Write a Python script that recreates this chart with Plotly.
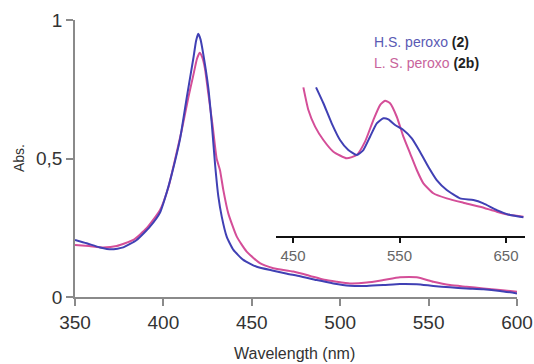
import plotly.graph_objects as go

# Main spectrum data
wl_hs = [350, 356.6, 364.1, 370.7, 377.3, 384.9, 392.4, 398.1, 402.0, 405.0, 409.4, 413.2,
         416.9, 418.5, 419.7, 421.0, 422.6, 425.4, 427.3, 429.2, 431.1, 433.0, 435.8, 439.6,
         445.2, 452.8, 462.2, 470, 477.3, 486.7, 496.1, 505.5, 515, 524.4, 533.8, 543.3,
         552.7, 562.1, 571.5, 581, 590.4, 600]
abs_hs = [0.206, 0.194, 0.179, 0.172, 0.179, 0.206, 0.254, 0.305, 0.38, 0.45, 0.57, 0.72,
          0.86, 0.925, 0.950, 0.93, 0.875, 0.755, 0.63, 0.48, 0.362, 0.29, 0.218, 0.170,
          0.134, 0.109, 0.095, 0.084, 0.075, 0.061, 0.049, 0.041, 0.040, 0.043, 0.047, 0.046,
          0.040, 0.035, 0.031, 0.028, 0.022, 0.013]

wl_ls = [350, 358, 366, 373.6, 383, 390.5, 398.1, 403.0, 406.0, 410.3, 414.1, 416.9, 419,
         420.5, 422, 423.5, 425.4, 427.9, 430.1, 432, 433.9, 436.7, 441.5, 447.1, 454.6,
         462.2, 473.5, 483, 491, 498, 505.5, 515, 524.4, 533.8, 543.3, 552.7, 562.1, 571.5,
         581, 590.4, 600]
abs_ls = [0.188, 0.184, 0.179, 0.184, 0.206, 0.248, 0.314, 0.40, 0.48, 0.60, 0.72, 0.80,
          0.86, 0.882, 0.865, 0.825, 0.735, 0.615, 0.50, 0.458, 0.386, 0.302, 0.218, 0.164,
          0.122, 0.104, 0.092, 0.076, 0.062, 0.055, 0.049, 0.052, 0.061, 0.071, 0.071, 0.055,
          0.043, 0.037, 0.031, 0.025, 0.019]

# Inset (magnified) data, relative units
in_wl_hs = [471.6, 478.5, 486.3, 494.1, 501.9, 509.8, 516.0, 522.3, 528.6, 534.8, 539.5,
            545.8, 553.6, 561.5, 569.2, 577.0, 584.9, 594.3, 606.8, 619.3, 628.7, 641.3,
            653.8, 666.3]
in_v_hs = [0.991, 0.885, 0.751, 0.64, 0.573, 0.54, 0.573, 0.662, 0.751, 0.785, 0.778,
           0.74, 0.707, 0.651, 0.562, 0.462, 0.373, 0.307, 0.251, 0.24, 0.218, 0.173,
           0.14, 0.125]
in_wl_ls = [459.7, 464.4, 470.7, 478.5, 487.9, 500.4, 509.8, 517.6, 525.4, 531.7, 536.4,
            541.1, 547.4, 553.6, 559.9, 566.2, 572.4, 581.7, 594.3, 609.9, 625.6, 641.3,
            653.8, 666.3]
in_v_ls = [0.991, 0.84, 0.729, 0.64, 0.562, 0.518, 0.54, 0.629, 0.773, 0.873, 0.902,
           0.885, 0.795, 0.662, 0.551, 0.44, 0.351, 0.285, 0.251, 0.222, 0.195, 0.162,
           0.14, 0.129]

x_ticks = [350, 400, 450, 500, 550, 600]
y_ticks = [0, 0.5, 1]
y_ticktext = ["0", "0,5", "1"]
inset_ticks = [450, 550, 650]

BLUE = "rgb(64,64,180)"
PINK = "rgb(212,78,152)"

fig = go.Figure()
fig.add_trace(go.Scatter(x=wl_ls, y=abs_ls, mode="lines",
                         line=dict(color=PINK, width=2, shape="spline", smoothing=0.5),
                         xaxis="x", yaxis="y"))
fig.add_trace(go.Scatter(x=wl_hs, y=abs_hs, mode="lines",
                         line=dict(color=BLUE, width=2, shape="spline", smoothing=0.5),
                         xaxis="x", yaxis="y"))
fig.add_trace(go.Scatter(x=in_wl_ls, y=in_v_ls, mode="lines",
                         line=dict(color=PINK, width=2, shape="spline", smoothing=0.5),
                         xaxis="x2", yaxis="y2"))
fig.add_trace(go.Scatter(x=in_wl_hs, y=in_v_hs, mode="lines",
                         line=dict(color=BLUE, width=2, shape="spline", smoothing=0.5),
                         xaxis="x2", yaxis="y2"))

W, H = 534, 364
ml, mr, mt, mb = 75, 8, 20, 67
pw = W - ml - mr
ph = H - mt - mb

def px(x):
    return (x - ml) / pw

def py(y):
    return (H - mb - y) / ph

fig.update_layout(
    width=W, height=H,
    margin=dict(l=ml, r=mr, t=mt, b=mb, autoexpand=False),
    paper_bgcolor="white", plot_bgcolor="white",
    showlegend=False,
    font=dict(family="Liberation Sans, Arial, sans-serif", color="#333333"),
    xaxis=dict(domain=[0, px(517)], range=[350, 600], tickvals=x_ticks,
               showline=True, linecolor="#8a8a8a", linewidth=1.5,
               ticks="outside", ticklen=7, tickcolor="#8a8a8a", tickwidth=1.5,
               tickfont=dict(size=19, color="#333333"), showgrid=False, zeroline=False,
               automargin=False, anchor="y"),
    yaxis=dict(domain=[0, 1], range=[0, 1], tickvals=y_ticks, ticktext=y_ticktext,
               showline=True, linecolor="#8a8a8a", linewidth=1.5,
               ticks="outside", ticklen=7, tickcolor="#8a8a8a", tickwidth=1.5,
               tickfont=dict(size=19, color="#333333"), showgrid=False, zeroline=False,
               automargin=False, anchor="x"),
    xaxis2=dict(domain=[px(276), px(525)], range=[434, 667.8], tickvals=inset_ticks,
                showline=True, linecolor="#111111", linewidth=2,
                ticks="outside", ticklen=5, tickcolor="#111111", tickwidth=2,
                tickfont=dict(size=15, color="#666666"), showgrid=False, zeroline=False,
                automargin=False, anchor="y2"),
    yaxis2=dict(domain=[py(236), py(80)], range=[0, 1.04], visible=False, anchor="x2"),
)

fig.add_annotation(text="Wavelength (nm)", xref="paper", yref="paper",
                   x=px(294), y=py(353), xanchor="center", yanchor="middle",
                   showarrow=False, font=dict(size=16, color="#333333"))
fig.add_annotation(text="Abs.", xref="paper", yref="paper", textangle=-90,
                   x=px(19), y=py(158), xanchor="center", yanchor="middle",
                   showarrow=False, font=dict(size=14, color="#333333"))
fig.add_annotation(text="<span style='color:#5a5ab4'>H.S. peroxo</span> <b>(2)</b>",
                   xref="paper", yref="paper", x=px(372), y=py(42),
                   xanchor="left", yanchor="middle", showarrow=False,
                   font=dict(size=14, color="#222222"))
fig.add_annotation(text="<span style='color:#c8649b'>L. S. peroxo</span> <b>(2b)</b>",
                   xref="paper", yref="paper", x=px(372), y=py(63),
                   xanchor="left", yanchor="middle", showarrow=False,
                   font=dict(size=14, color="#222222"))

fig.write_html("out.html")
